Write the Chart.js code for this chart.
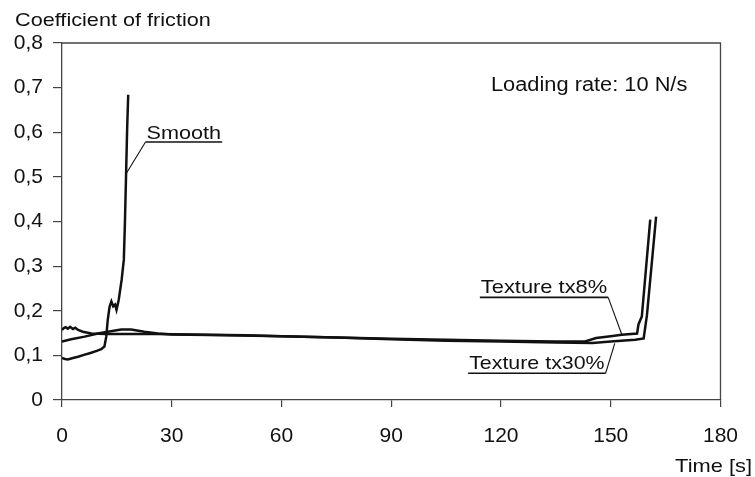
<!DOCTYPE html>
<html><head><meta charset="utf-8">
<script src="https://cdn.jsdelivr.net/npm/chart.js@4/dist/chart.umd.min.js"></script>
<style>html,body{margin:0;padding:0;background:#fff}#wrap{width:755px;height:477px}</style>
</head><body><div id="wrap"><canvas id="c" width="755" height="477"></canvas></div>
<script>
// ---- data ----
const xTickValues = [0, 30, 60, 90, 120, 150, 180];
const yTickLabels = ['0', '0,1', '0,2', '0,3', '0,4', '0,5', '0,6', '0,7', '0,8'];

const smoothTime = [0, 0.8, 1.6, 3, 4.4, 6, 8, 9.5, 10.7, 11.6, 12.1, 12.5, 13.0, 13.5, 14.0, 14.5, 14.9, 15.5, 16.3, 16.9, 17.2, 17.5, 17.8, 18.1];
const smoothCoF  = [0.094, 0.092, 0.091, 0.094, 0.097, 0.101, 0.106, 0.110, 0.114, 0.120, 0.142, 0.179, 0.209, 0.221, 0.210, 0.214, 0.202, 0.224, 0.269, 0.314, 0.397, 0.500, 0.605, 0.684];

const tx8Time = [0, 0.5, 1, 1.6, 2.2, 3, 3.6, 4.4, 5.7, 8, 12, 20, 26, 35, 50, 60, 75, 90, 105, 120, 135, 143, 146, 150, 153, 157.2, 157.6, 158.5, 160.8];
const tx8CoF  = [0.157, 0.161, 0.163, 0.160, 0.164, 0.159, 0.162, 0.157, 0.153, 0.149, 0.148, 0.148, 0.148, 0.147, 0.145, 0.143, 0.140, 0.137, 0.135, 0.133, 0.131, 0.131, 0.139, 0.143, 0.146, 0.149, 0.170, 0.187, 0.404];

const tx30Time = [0, 2.5, 6.2, 9.8, 12.5, 16.2, 18.9, 22.5, 26.2, 30, 45, 60, 75, 90, 105, 120, 135, 145, 150, 156.7, 159, 159.9, 162.4];
const tx30CoF  = [0.131, 0.136, 0.142, 0.149, 0.153, 0.158, 0.158, 0.153, 0.149, 0.147, 0.145, 0.143, 0.140, 0.136, 0.133, 0.131, 0.129, 0.128, 0.131, 0.135, 0.138, 0.190, 0.411];

const seriesNames = ['Smooth', 'Texture tx8%', 'Texture tx30%'];

// ---- build chart ----
const toPts = (t, v) => t.map((x, i) => ({x: x, y: v[i]}));
const FONT = 'Liberation Sans, Arial, sans-serif';

const lineStyle = {borderColor: '#111', borderWidth: 2.5, pointRadius: 0, fill: false, tension: 0};

function wideText(ctx, text, x, y, align, size, sx) {
  ctx.save();
  ctx.font = size + 'px ' + FONT;
  ctx.textAlign = align;
  ctx.textBaseline = 'alphabetic';
  ctx.translate(x, y);
  ctx.scale(sx, 1);
  ctx.fillText(text, 0, 0);
  const w = ctx.measureText(text).width * sx;
  ctx.restore();
  return w;
}

const overlay = {
  id: 'overlay',
  afterDraw(chart) {
    const ctx = chart.ctx, a = chart.chartArea;
    const xs = chart.scales.x, ys = chart.scales.y;
    ctx.save();
    // frame top/right
    ctx.strokeStyle = '#444'; ctx.lineWidth = 1.3;
    ctx.beginPath();
    ctx.moveTo(a.left, a.top); ctx.lineTo(a.right, a.top); ctx.lineTo(a.right, a.bottom);
    ctx.stroke();
    ctx.fillStyle = '#111';
    wideText(ctx, 'Coefficient of friction', 15, 26, 'left', 19, 1.14);
    wideText(ctx, 'Time [s]', 752, 472, 'right', 19, 1.15);
    wideText(ctx, 'Loading rate: 10 N/s', 491, 91, 'left', 20, 1.09);
    const notes = [
      {text: seriesNames[0], tx: 23.1, ty: 0.585, uy: 0.578, ex: 17.6, ey: 0.508, side: 'left', sx: 1.14},
      {text: seriesNames[1], tx: 114.5, ty: 0.239, uy: 0.230, ex: 153.1, ey: 0.145, side: 'right', sx: 1.15},
      {text: seriesNames[2], tx: 111.3, ty: 0.069, uy: 0.060, ex: 151.1, ey: 0.127, side: 'right', sx: 1.125}
    ];
    ctx.strokeStyle = '#111';
    notes.forEach(n => {
      const x = xs.getPixelForValue(n.tx), y = ys.getPixelForValue(n.ty);
      const w = wideText(ctx, n.text, x, y, 'left', 19, n.sx);
      const uy = ys.getPixelForValue(n.uy);
      ctx.lineWidth = 1.6;
      ctx.beginPath();
      ctx.moveTo(x - 1, uy); ctx.lineTo(x + w + 1, uy);
      ctx.stroke();
      ctx.lineWidth = 1.1;
      ctx.beginPath();
      const sx = n.side === 'left' ? x - 1 : x + w + 1;
      ctx.moveTo(sx, uy);
      ctx.lineTo(xs.getPixelForValue(n.ex), ys.getPixelForValue(n.ey));
      ctx.stroke();
    });
    ctx.restore();
  }
};

new Chart(document.getElementById('c'), {
  type: 'line',
  data: {
    datasets: [
      Object.assign({label: seriesNames[0], data: toPts(smoothTime, smoothCoF)}, lineStyle),
      Object.assign({label: seriesNames[1], data: toPts(tx8Time, tx8CoF)}, lineStyle),
      Object.assign({label: seriesNames[2], data: toPts(tx30Time, tx30CoF)}, lineStyle)
    ]
  },
  options: {
    responsive: false,
    animation: false,
    devicePixelRatio: 1,
    layout: {padding: {left: 0, right: 33, top: 43, bottom: 0}},
    plugins: {legend: {display: false}, tooltip: {enabled: false}},
    scales: {
      x: {
        type: 'linear', min: 0, max: 180,
        afterBuildTicks: s => { s.ticks = xTickValues.map(v => ({value: v})); },
        ticks: {color: '#111', font: {family: FONT, size: 21}, padding: 17, maxRotation: 0,
                callback: v => String(v)},
        grid: {display: true, drawOnChartArea: false, drawTicks: true, tickLength: 7, color: '#444', lineWidth: 1.2},
        border: {display: true, color: '#444', width: 1.3},
        afterFit: s => { s.height = 77; }
      },
      y: {
        type: 'linear', min: 0, max: 0.8,
        ticks: {stepSize: 0.1, color: '#111', font: {family: FONT, size: 21}, padding: 10,
                callback: (v, i) => yTickLabels[i]},
        grid: {display: true, drawOnChartArea: false, drawTicks: true, tickLength: 9, color: '#444', lineWidth: 1.2},
        border: {display: true, color: '#444', width: 1.3},
        afterFit: s => { s.width = 62; }
      }
    }
  },
  plugins: [overlay]
});
</script></body></html>
